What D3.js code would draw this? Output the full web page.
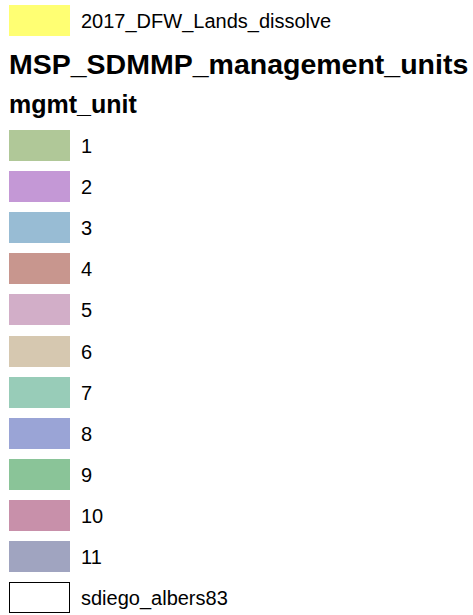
<!DOCTYPE html>
<html>
<head>
<meta charset="utf-8">
<script src="https://cdn.jsdelivr.net/npm/d3@7"></script>
<style>
  body { margin: 0; background: #fff; }
  svg text { font-family: "Liberation Sans", Arial, sans-serif; fill: #000; }
</style>
</head>
<body>
<script>
// legend content
const topLayer = "2017_DFW_Lands_dissolve";
const topColor = "#ffff73";
const groupTitle = "MSP_SDMMP_management_units";
const fieldName = "mgmt_unit";
const units = ["1", "2", "3", "4", "5", "6", "7", "8", "9", "10", "11"];
const unitColors = ["#b0c898", "#c498d6", "#98bcd4", "#c8968e", "#d2aec8", "#d6c8b0",
                    "#98ccb8", "#9aa4d6", "#8ac498", "#c890aa", "#a0a4c0"];
const bottomLayer = "sdiego_albers83";

const width = 473, height = 615;
const swW = 61, swH = 31;

const svg = d3.select("body").append("svg")
    .attr("width", width)
    .attr("height", height);

// rows: units then the outline layer
const rows = units.map((u, i) => ({ label: u, fill: unitColors[i], stroke: "none" }))
  .concat([{ label: bottomLayer, fill: "#fff", stroke: "#000" }]);

// row index -> top of swatch
const y = d3.scaleLinear()
    .domain([0, rows.length - 1])
    .range([130, 130 + 41.1 * (rows.length - 1)]);

// top layer
svg.append("rect")
    .attr("x", 9).attr("y", 5)
    .attr("width", swW).attr("height", swH)
    .attr("fill", topColor);
svg.append("text")
    .attr("x", 81).attr("y", 28)
    .attr("font-size", 20)
    .text(topLayer);

svg.append("text")
    .attr("x", 9).attr("y", 74)
    .attr("font-size", 28.5)
    .attr("font-weight", "bold")
    .text(groupTitle);

svg.append("text")
    .attr("x", 9).attr("y", 113)
    .attr("font-size", 25)
    .attr("font-weight", "bold")
    .text(fieldName);

const g = svg.selectAll("g.row")
  .data(rows)
  .join("g")
    .attr("class", "row")
    .attr("transform", (d, i) => `translate(0,${Math.round(y(i))})`);

g.append("rect")
    .attr("x", d => d.stroke === "none" ? 9 : 9.5)
    .attr("y", d => d.stroke === "none" ? 0 : 0.5)
    .attr("width", d => d.stroke === "none" ? swW : swW - 1)
    .attr("height", d => d.stroke === "none" ? swH : swH - 1)
    .attr("fill", d => d.fill)
    .attr("stroke", d => d.stroke)
    .attr("stroke-width", 1);

g.append("text")
    .attr("x", 81)
    .attr("y", swH / 2 + 7)
    .attr("font-size", 20)
    .text(d => d.label);
</script>
</body>
</html>
